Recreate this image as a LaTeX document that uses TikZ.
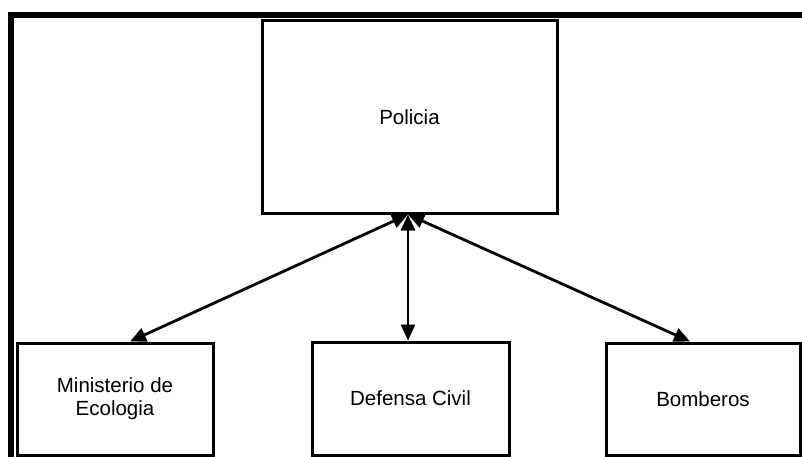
\documentclass[tikz,border=0pt]{standalone}
\usepackage{fontspec}
\setmainfont{Liberation Sans}
\usetikzlibrary{arrows.meta,calc}
\tikzset{
  orgbox/.style={draw=black, line width=3pt, inner sep=0pt, align=center,
    font=\fontsize{20.5}{23}\selectfont},
  link/.style={line width=2.8pt, {Triangle[length=16pt,width=14pt]}-{Triangle[length=16pt,width=14pt]}},
  frameline/.style={line width=6pt}
}
\begin{document}
\begin{tikzpicture}[x=1pt,y=-1pt]
\useasboundingbox (0,0) rectangle (802,457);
% outer frame (only top and left edges visible)
\coordinate (ftl) at (11,15);
\coordinate (ftr) at (802,15);
\coordinate (fbl) at (11,457);
\draw[frameline] (fbl) -- (ftl) -- (ftr);
% boxes
\node[orgbox, minimum width=295pt, minimum height=192pt] (pol) at (409.5,117) {Policia};
\node[orgbox, minimum width=196pt, minimum height=112pt] (min) at (115,399) {Ministerio de\\Ecologia};
\node[orgbox, minimum width=197pt, minimum height=113pt] (def) at (410.5,398.5) {Defensa Civil};
\node[orgbox, minimum width=194pt, minimum height=112pt] (bom) at (703,399) {Bomberos};
% connectors
\coordinate (hub) at ($(pol.south)+(-1.5,0)$);
\draw[link] (hub) -- ($(min.north)+(15,0)$);
\draw[link] (hub) -- (hub |- def.north);
\draw[link] (hub) -- ($(bom.north)+(-13,0)$);
\end{tikzpicture}
\end{document}
